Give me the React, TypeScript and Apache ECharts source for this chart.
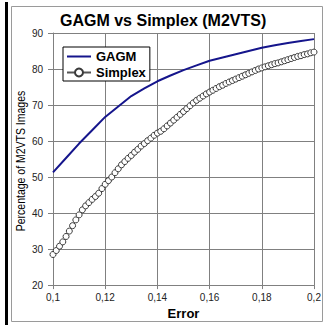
import React, { useEffect, useRef } from "react";
import * as echarts from "echarts";

// Error thresholds (x) and recognition percentages
const gagmErrors = [
  0.1, 0.105, 0.11, 0.115, 0.12, 0.125, 0.13, 0.135, 0.14, 0.145, 0.15,
  0.155, 0.16, 0.165, 0.17, 0.175, 0.18, 0.185, 0.19, 0.195, 0.2,
];
const gagmValues = [
  51.3, 55.3, 59.3, 63.0, 66.7, 69.6, 72.5, 74.6, 76.6, 78.2, 79.7,
  81.0, 82.3, 83.2, 84.1, 85.0, 85.9, 86.6, 87.2, 87.8, 88.3,
];

const simplexErrors = [
  0.1, 0.10125, 0.1025, 0.10375, 0.105, 0.10625, 0.1075, 0.10875,
  0.11, 0.11125, 0.1125, 0.11375, 0.115, 0.11625, 0.1175, 0.11875,
  0.12, 0.12125, 0.1225, 0.12375, 0.125, 0.12625, 0.1275, 0.12875,
  0.13, 0.13125, 0.1325, 0.13375, 0.135, 0.13625, 0.1375, 0.13875,
  0.14, 0.14125, 0.1425, 0.14375, 0.145, 0.14625, 0.1475, 0.14875,
  0.15, 0.15125, 0.1525, 0.15375, 0.155, 0.15625, 0.1575, 0.15875,
  0.16, 0.16125, 0.1625, 0.16375, 0.165, 0.16625, 0.1675, 0.16875,
  0.17, 0.17125, 0.1725, 0.17375, 0.175, 0.17625, 0.1775, 0.17875,
  0.18, 0.18125, 0.1825, 0.18375, 0.185, 0.18625, 0.1875, 0.18875,
  0.19, 0.19125, 0.1925, 0.19375, 0.195, 0.19625, 0.1975, 0.19875, 0.2,
];
const simplexValues = [
  28.5, 29.6, 30.8, 32.0, 33.5, 35.0, 36.5, 38.1,
  39.5, 40.9, 42.0, 42.9, 43.8, 44.6, 45.5, 46.8,
  48.0, 49.0, 50.0, 51.2, 52.3, 53.4, 54.3, 55.2,
  56.0, 56.9, 57.7, 58.6, 59.3, 60.1, 60.8, 61.6,
  62.2, 62.7, 63.4, 64.2, 65.0, 65.8, 66.6, 67.4,
  68.2, 69.0, 69.8, 70.6, 71.3, 71.9, 72.5, 73.1,
  73.6, 74.1, 74.6, 75.1, 75.5, 76.0, 76.4, 76.8,
  77.2, 77.6, 78.0, 78.4, 78.8, 79.2, 79.6, 80.0,
  80.3, 80.6, 80.9, 81.2, 81.5, 81.7, 82.0, 82.3,
  82.6, 82.9, 83.2, 83.5, 83.7, 84.0, 84.2, 84.5, 84.7,
];

const titleText = "GAGM vs Simplex (M2VTS)";
const xName = "Error";
const yName = "Percentage of M2VTS Images";
const seriesNames = ["GAGM", "Simplex"];

const FONT = "'Liberation Sans', Arial, sans-serif";

export default function App() {
  const ref = useRef<HTMLDivElement>(null);
  useEffect(() => {
    if (!ref.current) return;
    const chart = echarts.init(ref.current, undefined, { renderer: "svg" });
    const fmtX = (v: number) => String(+v.toFixed(2)).replace(".", ",");
    chart.setOption({
      animation: false,
      backgroundColor: "#ffffff",
      textStyle: { fontFamily: FONT },
      title: {
        text: titleText,
        left: 60,
        top: 12,
        padding: 0,
        textStyle: { fontFamily: FONT, fontSize: 16, fontWeight: "bold", color: "#000" },
      },
      graphic: [
        {
          type: "rect",
          shape: { x: 11.5, y: 6.5, width: 311, height: 315 },
          style: { fill: "none", stroke: "#9a9a9a", lineWidth: 1 },
          silent: true,
          z: -10,
        },
        {
          type: "rect",
          shape: { x: 5, y: 2, width: 3, height: 323 },
          style: { fill: "#000" },
          silent: true,
        },
        {
          type: "text",
          x: 21,
          y: 161,
          rotation: Math.PI / 2,
          scaleX: 0.84,
          silent: true,
          style: {
            text: yName,
            fill: "#000",
            font: "12.5px 'Liberation Sans', Arial, sans-serif",
            align: "center",
            verticalAlign: "middle",
          },
        },
      ],
      legend: {
        orient: "vertical",
        left: 63,
        top: 47,
        padding: [3, 4, 2, 3],
        itemGap: 3,
        itemWidth: 24,
        itemHeight: 10,
        backgroundColor: "#fff",
        borderColor: "#000",
        borderWidth: 1,
        textStyle: { fontFamily: FONT, fontSize: 13, fontWeight: "bold", color: "#000" },
        data: [
          { name: seriesNames[0], itemStyle: { opacity: 0 } },
          { name: seriesNames[1] },
        ],
      },
      grid: { left: 53, right: 10, top: 33, bottom: 33 },
      xAxis: {
        type: "value",
        min: 0.1,
        max: 0.2,
        interval: 0.02,
        name: xName,
        nameLocation: "middle",
        nameGap: 16,
        nameTextStyle: { fontFamily: FONT, fontSize: 13, fontWeight: "bold", color: "#000" },
        axisLine: { lineStyle: { color: "#808080" } },
        axisTick: { show: true, length: 4, lineStyle: { color: "#808080" } },
        axisLabel: { formatter: fmtX, fontSize: 10, color: "#222", margin: 7 },
        splitLine: { show: true, lineStyle: { color: "#808080", width: 1 } },
      },
      yAxis: {
        type: "value",
        min: 20,
        max: 90,
        interval: 10,
        axisLine: { show: true, lineStyle: { color: "#808080" } },
        axisTick: { show: true, length: 5, lineStyle: { color: "#808080" } },
        axisLabel: { fontSize: 10, color: "#222", margin: 10 },
        splitLine: { show: true, lineStyle: { color: "#808080", width: 1 } },
      },
      series: [
        {
          name: seriesNames[0],
          type: "line",
          symbol: "none",
          data: gagmErrors.map((x, i) => [x, gagmValues[i]]),
          lineStyle: { color: "#15158c", width: 2 },
          itemStyle: { color: "#15158c" },
          z: 3,
        },
        {
          name: seriesNames[1],
          type: "line",
          symbol: "circle",
          symbolSize: 6,
          data: simplexErrors.map((x, i) => [x, simplexValues[i]]),
          lineStyle: { color: "#555", width: 1 },
          itemStyle: { color: "#fff", borderColor: "#3a3a3a", borderWidth: 1 },
          z: 2,
        },
      ],
    });
    return () => chart.dispose();
  }, []);
  return (
    <div
      ref={ref}
      style={{ position: "fixed", left: 0, top: 0, width: 324, height: 325, background: "#fff" }}
    />
  );
}
